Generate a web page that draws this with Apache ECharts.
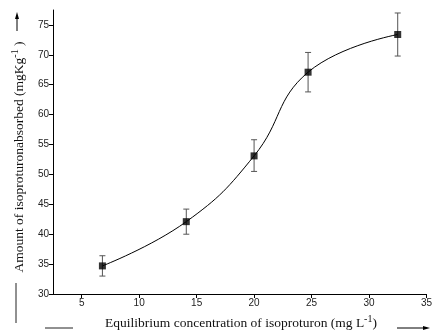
<!DOCTYPE html>
<html>
<head>
<meta charset="utf-8">
<script src="https://cdn.jsdelivr.net/npm/echarts@6/dist/echarts.min.js"></script>
<style>
html,body{margin:0;padding:0;background:#fff;}
#chart{width:435px;height:332px;}
</style>
</head>
<body>
<div id="chart"></div>
<script>
// Data
const xValues = [6.8, 14.1, 20.0, 24.7, 32.5];
const yValues = [34.7, 42.1, 53.1, 67.1, 73.4];
const errLow  = [33.0, 40.0, 50.5, 63.8, 69.8];
const errHigh = [36.4, 44.2, 55.8, 70.4, 77.0];
const xTicks = [5, 10, 15, 20, 25, 30, 35];
const yTicks = [30, 35, 40, 45, 50, 55, 60, 65, 70, 75];

const chart = echarts.init(document.getElementById('chart'));
const points = xValues.map((x, i) => [x, yValues[i]]);
const errData = xValues.map((x, i) => [x, errLow[i], errHigh[i]]);

const serif = '"Liberation Serif", "Times New Roman", serif';
const sans = '"Liberation Sans", Arial, sans-serif';

chart.setOption({
  animation: false,
  backgroundColor: '#fff',
  grid: { left: 53, right: 5, top: 10, bottom: 38, containLabel: false },
  xAxis: {
    type: 'value', min: 2.5, max: 35,
    splitLine: { show: false },
    axisLine: { lineStyle: { color: '#000', width: 1 } },
    axisTick: { show: true, length: 4, customValues: xTicks, lineStyle: { color: '#000' } },
    axisLabel: { customValues: xTicks, color: '#222', fontFamily: sans, fontSize: 10, margin: 4 }
  },
  yAxis: {
    type: 'value', min: 30, max: 77.5,
    splitLine: { show: false },
    axisLine: { show: true, lineStyle: { color: '#000', width: 1 } },
    axisTick: { show: true, length: 4, customValues: yTicks, lineStyle: { color: '#000' } },
    axisLabel: { customValues: yTicks, color: '#222', fontFamily: sans, fontSize: 10, margin: 4 }
  },
  series: [
    {
      type: 'line', data: points, smooth: 0.45,
      symbol: 'none',
      lineStyle: { color: '#000', width: 1 },
      z: 2
    },
    {
      type: 'custom',
      data: errData,
      renderItem: function (params, api) {
        const x = api.value(0);
        const lo = api.coord([x, api.value(1)]);
        const hi = api.coord([x, api.value(2)]);
        const w = 3;
        const st = { stroke: '#555', lineWidth: 1 };
        return {
          type: 'group',
          children: [
            { type: 'line', shape: { x1: lo[0], y1: lo[1], x2: hi[0], y2: hi[1] }, style: st },
            { type: 'line', shape: { x1: lo[0] - w, y1: lo[1], x2: lo[0] + w, y2: lo[1] }, style: st },
            { type: 'line', shape: { x1: hi[0] - w, y1: hi[1], x2: hi[0] + w, y2: hi[1] }, style: st }
          ]
        };
      },
      z: 3
    },
    {
      type: 'scatter', data: points,
      symbol: 'rect', symbolSize: 7,
      itemStyle: { color: '#000' },
      z: 4
    }
  ],
  graphic: [
    {
      type: 'text', x: 18, y: 157, rotation: Math.PI / 2,
      style: {
        text: '{a|Amount of isoproturonabsorbed (mgKg}{s|-1}{a| )}',
        align: 'center', verticalAlign: 'middle',
        rich: {
          a: { fontFamily: serif, fontSize: 13.5, fill: '#111', verticalAlign: 'bottom' },
          s: { fontFamily: serif, fontSize: 10, fill: '#111', verticalAlign: 'bottom', padding: [0, 0, 6, 0] }
        }
      }
    },
    {
      type: 'text', x: 241, y: 322,
      style: {
        text: '{a|Equilibrium concentration of isoproturon (mg L}{s|-1}{a|)}',
        align: 'center', verticalAlign: 'middle',
        rich: {
          a: { fontFamily: serif, fontSize: 13.5, fill: '#111', verticalAlign: 'bottom' },
          s: { fontFamily: serif, fontSize: 10, fill: '#111', verticalAlign: 'bottom', padding: [0, 0, 6, 0] }
        }
      }
    },
    { type: 'line', shape: { x1: 16, y1: 283, x2: 16, y2: 323 }, style: { stroke: '#222', lineWidth: 1 } },
    { type: 'line', shape: { x1: 17, y1: 31, x2: 17, y2: 17 }, style: { stroke: '#000', lineWidth: 1 } },
    { type: 'polygon', shape: { points: [[17, 12], [15, 19], [19, 19]] }, style: { fill: '#000' } },
    { type: 'line', shape: { x1: 45, y1: 328, x2: 73, y2: 328 }, style: { stroke: '#222', lineWidth: 1 } },
    { type: 'line', shape: { x1: 397, y1: 328, x2: 424, y2: 328 }, style: { stroke: '#000', lineWidth: 1 } },
    { type: 'polygon', shape: { points: [[430, 328], [423, 326], [423, 330]] }, style: { fill: '#000' } }
  ]
});
</script>
</body>
</html>
